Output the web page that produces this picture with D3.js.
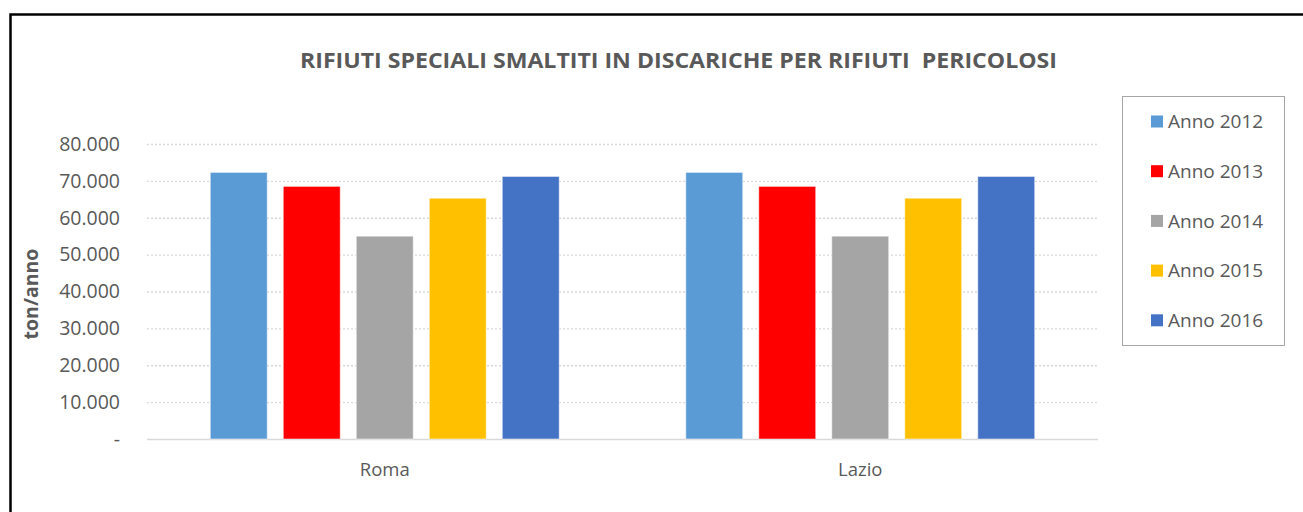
<!DOCTYPE html>
<html>
<head>
<meta charset="utf-8">
<script src="https://cdn.jsdelivr.net/npm/d3@7"></script>
<style>
  body { margin: 0; background: #fff; }
  text { font-family: "Open Sans", sans-serif; fill: #595959; }
</style>
</head>
<body>
<div id="chart"></div>
<script>
/*------Data------*/

var categories = ["Roma", "Lazio"];
var years = ["Anno 2012", "Anno 2013", "Anno 2014", "Anno 2015", "Anno 2016"];
var romaValues = [72300, 68500, 55000, 65300, 71200];
var lazioValues = [72300, 68500, 55000, 65300, 71200];
var yTicks = [0, 10000, 20000, 30000, 40000, 50000, 60000, 70000, 80000];

var colors = ["#5B9BD5", "#FF0000", "#A5A5A5", "#FFC000", "#4472C4"];

var rows = [
  { cat: categories[0], values: romaValues },
  { cat: categories[1], values: lazioValues }
];

/*------Svg canvas------*/

var width = 1303, height = 512;
var svg = d3.select("#chart")
      .append("svg")
      .attr("width", width)
      .attr("height", height);

// black frame of the pasted picture (only top and left edges show)
svg.append("rect")
    .attr("x", 10.5).attr("y", 14.5)
    .attr("width", 1400).attr("height", 600)
    .attr("fill", "none")
    .attr("stroke", "#000")
    .attr("stroke-width", 2.5);

var plot = { left: 147, right: 1098, top: 144, bottom: 439 };

/*------Scales------*/

var x0 = d3.scaleBand()
      .domain(categories)
      .range([plot.left, plot.right]);

var x1 = d3.scaleBand()
      .domain(years)
      .range([0, x0.bandwidth()])
      .paddingInner(0.22)
      .paddingOuter(0.867);

var y = d3.scaleLinear()
      .domain([0, 80000])
      .range([plot.bottom, plot.top]);

var itLocale = d3.formatLocale({ decimal: ",", thousands: ".", grouping: [3], currency: ["€", ""] });
var fmt = itLocale.format(",.0f");

/*------Y axis with dotted gridlines------*/

var yAxis = svg.append("g")
    .attr("transform", "translate(" + plot.left + ",0)")
    .call(d3.axisLeft(y)
        .tickValues(yTicks)
        .tickSize(-(plot.right - plot.left))
        .tickPadding(27)
        .tickFormat(function(d) { return d === 0 ? "-" : fmt(d); }));

yAxis.select(".domain").remove();
yAxis.selectAll(".tick line")
    .attr("stroke", "#D9D9D9")
    .attr("stroke-width", 1.3)
    .attr("stroke-dasharray", function(d) { return d === 0 ? null : "2,2"; });
yAxis.selectAll(".tick text")
    .style("font-size", "19.5px")
    .attr("fill", "#595959");

/*------Bars------*/

var groups = svg.selectAll(".group")
    .data(rows)
    .enter()
    .append("g")
      .attr("class", "group")
      .attr("transform", function(d) { return "translate(" + x0(d.cat) + ",0)"; });

groups.selectAll("rect")
    .data(function(d) {
        return d.values.map(function(v, i) { return { year: years[i], value: v, i: i }; });
    })
    .enter()
    .append("rect")
      .attr("x", function(d) { return x1(d.year); })
      .attr("y", function(d) { return y(d.value); })
      .attr("width", x1.bandwidth())
      .attr("height", function(d) { return y(0) - y(d.value); })
      .attr("fill", function(d) { return colors[d.i]; })
      .attr("stroke", "#fff")
      .attr("stroke-opacity", 0.5)
      .attr("stroke-width", 1);

/*------X axis (category labels)------*/

var xAxis = svg.append("g")
    .attr("transform", "translate(0," + plot.bottom + ")")
    .call(d3.axisBottom(x0).tickSize(0).tickPadding(24));

xAxis.select(".domain").remove();
xAxis.selectAll(".tick text")
    .style("font-size", "18.5px")
    .attr("fill", "#595959");

/*------Titles------*/

svg.append("text")
    .attr("x", 678.5)
    .attr("y", 68)
    .attr("text-anchor", "middle")
    .attr("textLength", 757)
    .attr("lengthAdjust", "spacingAndGlyphs")
    .style("font-size", "22px")
    .style("font-weight", "bold")
    .style("white-space", "pre")
    .text("RIFIUTI SPECIALI SMALTITI IN DISCARICHE PER RIFIUTI  PERICOLOSI");

svg.append("text")
    .attr("transform", "translate(38,294) rotate(-90)")
    .attr("text-anchor", "middle")
    .style("font-size", "19.5px")
    .style("font-weight", "bold")
    .text("ton/anno");

/*------Legend------*/

var legend = svg.append("g");

legend.append("rect")
    .attr("x", 1122.5).attr("y", 96.5)
    .attr("width", 162).attr("height", 249)
    .attr("fill", "#fff")
    .attr("stroke", "#A6A6A6")
    .attr("stroke-width", 1);

var items = legend.selectAll(".item")
    .data(years)
    .enter()
    .append("g")
      .attr("class", "item")
      .attr("transform", function(d, i) { return "translate(1151," + (121.5 + i * 49.7) + ")"; });

items.append("rect")
    .attr("x", 0).attr("y", -6)
    .attr("width", 12).attr("height", 12)
    .attr("fill", function(d, i) { return colors[i]; });

items.append("text")
    .attr("x", 17)
    .attr("dy", "0.35em")
    .style("font-size", "19px")
    .text(function(d) { return d; });
</script>
</body>
</html>
